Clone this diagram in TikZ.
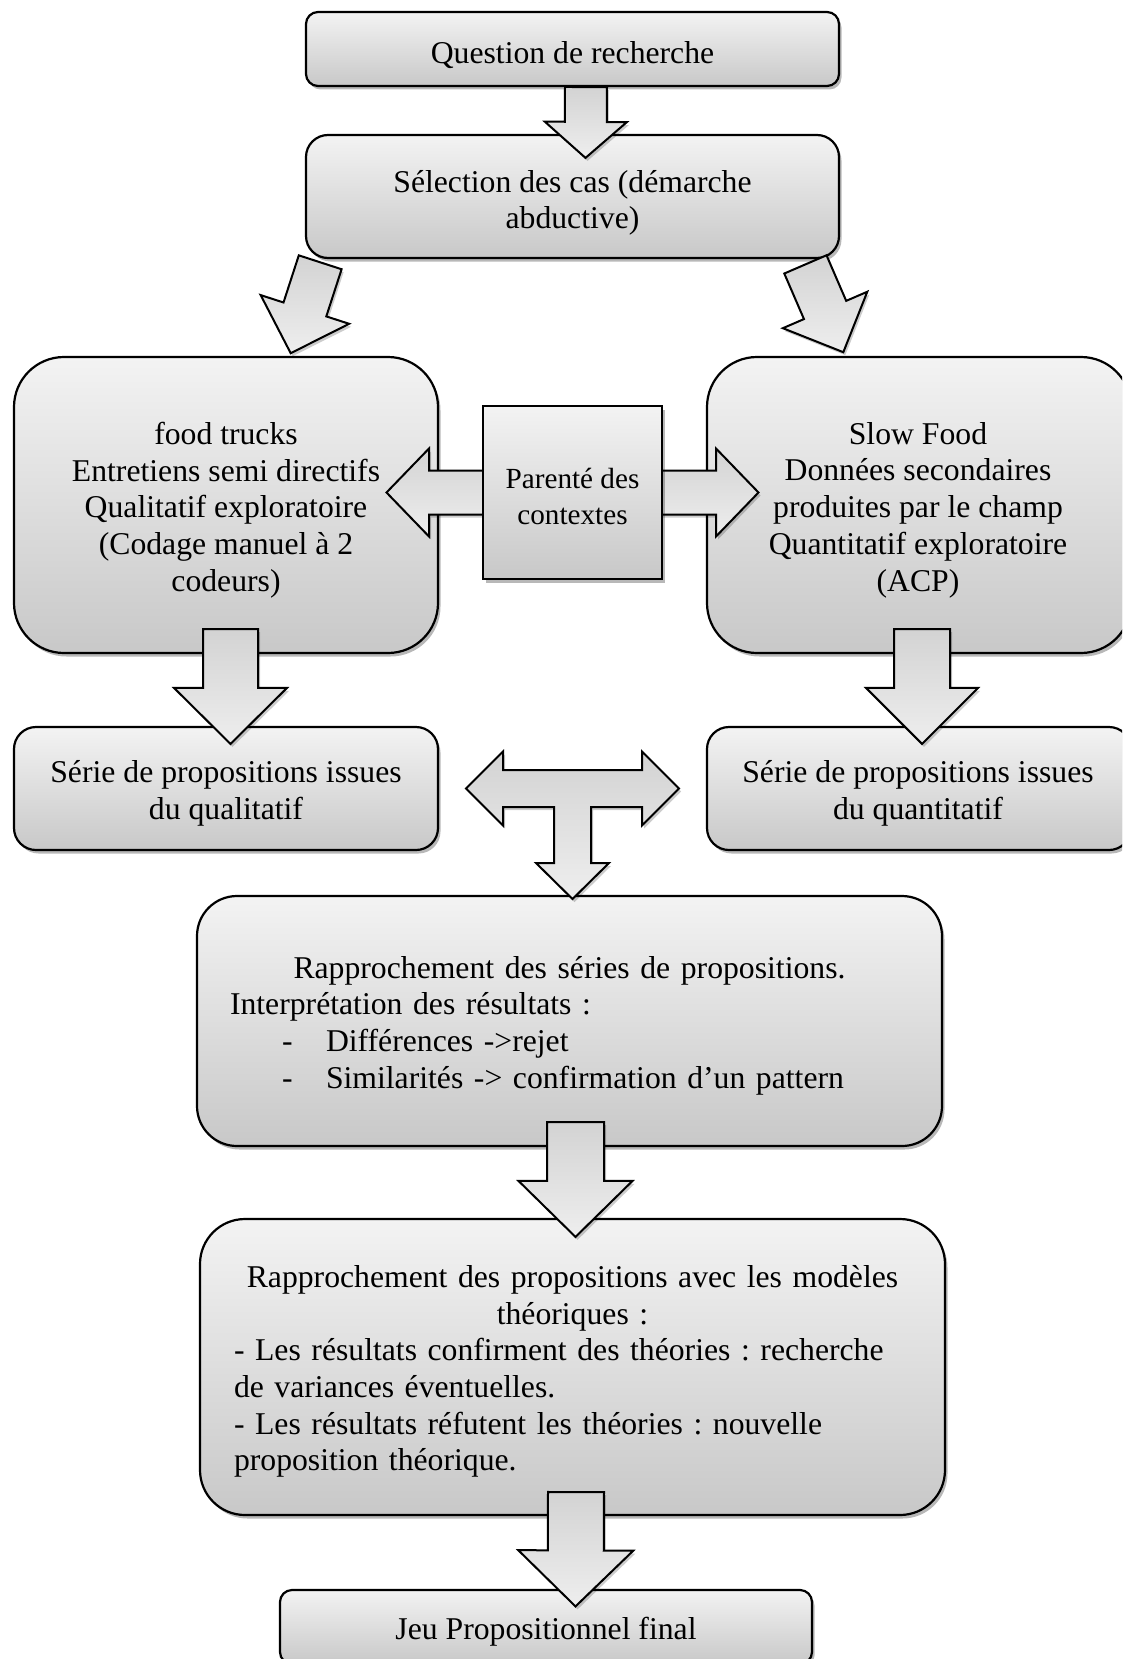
\documentclass[tikz,border=0pt]{standalone}
\usepackage{fontspec}
\setmainfont{Liberation Serif}
\usetikzlibrary{calc,shadows}
\frenchspacing
\definecolor{boxtop}{HTML}{F3F3F3}
\definecolor{boxbot}{HTML}{C8C8C8}
\definecolor{arrtop}{HTML}{D3D3D3}
\definecolor{arrbot}{HTML}{EEEEEE}
\tikzset{
  box/.style={draw=black, line width=2.2pt, top color=boxtop, bottom color=boxbot,
    inner sep=0pt,
    drop shadow={shadow xshift=2.5pt, shadow yshift=-3.5pt, opacity=0.28, fill=black}},
  txt/.style={inner sep=0pt, align=center, font=\fontsize{31.7}{36.7}\selectfont},
  barrow/.style={draw=black, line width=2pt, line join=miter, top color=arrtop, bottom color=arrbot,
    drop shadow={shadow xshift=2pt, shadow yshift=-3pt, opacity=0.2, fill=black}},
}
% name, start, end, shaft half width, head half width, head length
\newcommand\blockarrow[6]{%
  \coordinate (#1-s) at #2;
  \coordinate (#1-e) at #3;
  \coordinate (#1-h) at ($(#1-e)!#6pt!(#1-s)$);
  \draw[barrow] ($(#1-s)!#4pt!90:(#1-e)$) -- ($(#1-h)!#4pt!90:(#1-e)$) -- ($(#1-h)!#5pt!90:(#1-e)$)
    -- (#1-e) -- ($(#1-h)!#5pt!-90:(#1-e)$) -- ($(#1-h)!#4pt!-90:(#1-e)$) -- ($(#1-s)!#4pt!-90:(#1-e)$) -- cycle;
}
\begin{document}
\begin{tikzpicture}[x=1pt,y=-1pt]
\useasboundingbox (0,0) rectangle (1122,1659);
\clip (0,0) rectangle (1122,1659);
\fill[white] (0,0) rectangle (1122,1659);

\node[box, minimum width=533pt, minimum height=74pt, rounded corners=12pt] (q) at (572.5,49) {};
\node[txt] (q-t) at ($(q.center)+(0,6.5)$) {Question de recherche};

\node[box, minimum width=533pt, minimum height=123pt, rounded corners=22pt] (sel) at (572.5,196.5) {};
\node[txt] (sel-t) at ($(sel.center)+(0,6.5)$) {Sélection des cas (démarche\\abductive)};

\node[box, minimum width=424pt, minimum height=296pt, rounded corners=50pt] (ft) at (226,505) {};
\node[txt] (ft-t) at ($(ft.center)+(0,5)$) {food trucks\\Entretiens semi directifs\\Qualitatif exploratoire\\(Codage manuel à 2\\codeurs)};

\node[box, minimum width=424pt, minimum height=296pt, rounded corners=50pt] (sf) at (919,505) {};
\node[txt] (sf-t) at ($(sf.center)+(-1,5)$) {Slow Food\\Données secondaires\\produites par le champ\\Quantitatif exploratoire\\(ACP)};

% double arrow behind the middle box
\coordinate (pc) at ($(ft.east)!0.5!(sf.west)+(0,-12.5)$);
\draw[barrow, shift={(pc)}] (-186,0) -- (-143.5,-44) -- (-143.5,-22) -- (143.5,-22) -- (143.5,-44) -- (186,0)
  -- (143.5,44) -- (143.5,22) -- (-143.5,22) -- (-143.5,44) -- cycle;
\node[box, minimum width=179pt, minimum height=173pt] (par) at (pc) {};
\node[txt, font=\fontsize{29.2}{36}\selectfont] (par-t) at ($(par.center)+(0,4)$) {Parenté des\\contextes};

\node[box, minimum width=424pt, minimum height=123pt, rounded corners=22pt] (sql) at (226,788.5) {};
\node[txt] (sql-t) at ($(sql.center)+(0,5)$) {Série de propositions issues\\du qualitatif};
\node[box, minimum width=424pt, minimum height=123pt, rounded corners=22pt] (squ) at (919,788.5) {};
\node[txt] (squ-t) at ($(squ.center)+(-1,5)$) {Série de propositions issues\\du quantitatif};

\node[box, minimum width=745pt, minimum height=250pt, rounded corners=40pt] (rap) at (569.5,1021) {};
\node[txt, align=left, text width=705pt] (rap-t) at ($(rap.center)+(0,4.5)$) {%
\makebox[705pt][c]{Rapprochement des séries de propositions.}\\
\hspace*{13pt}Interprétation des résultats :\\
\hspace*{65pt}\makebox[44pt][l]{-}Différences ->rejet\\
\hspace*{65pt}\makebox[44pt][l]{-}Similarités -> confirmation d’un pattern};

\node[box, minimum width=745pt, minimum height=296pt, rounded corners=45pt] (mod) at (572.5,1367) {};
\node[txt, align=left, text width=705pt] (mod-t) at ($(mod.center)+(0,4.5)$) {%
\makebox[705pt][c]{Rapprochement des propositions avec les modèles}\\
\makebox[705pt][c]{théoriques :}\\
\hspace*{14pt}- Les résultats confirment des théories : recherche\\
\hspace*{14pt}de variances éventuelles.\\
\hspace*{14pt}- Les résultats réfutent les théories : nouvelle\\
\hspace*{14pt}proposition théorique.};

\node[box, minimum width=532pt, minimum height=74pt, rounded corners=12pt] (fin) at (546,1627) {};
\node[txt] (fin-t) at ($(fin.center)+(0,5)$) {Jeu Propositionnel final};

% block arrows
\blockarrow{a1}{($(q.south)+(13.5,0)$)}{($(sel.north)+(13,24)$)}{21}{41}{36}
\blockarrow{a2}{($(sel.south west)+(15.3,3.2)$)}{($(ft.north)+(64.7,-2.7)$)}{22.5}{46.5}{46}
\blockarrow{a3}{($(sel.south east)+(-34.7,5.3)$)}{($(sf.north)+(-75.7,-3.7)$)}{23}{46}{46}
\blockarrow{a4}{($(ft.south)+(4.5,-25)$)}{($(sql.north)+(4.5,18)$)}{27.5}{56.5}{56}
\blockarrow{a5}{($(sf.south)+(3,-25)$)}{($(squ.north)+(3,18)$)}{28}{56}{56}

% T-shaped arrow
\coordinate (tc) at ($(sql.east)!0.5!(squ.west)$);
\draw[barrow, shift={(tc)}] (-106.5,0) -- (-69.5,-37) -- (-69.5,-18.5) -- (69.5,-18.5) -- (69.5,-37) -- (106.5,0)
  -- (69.5,37) -- (69.5,18.5) -- (18.5,18.5) -- (18.5,74.5) -- (36.5,74.5) -- (0,110.5) -- (-36.5,74.5)
  -- (-18.5,74.5) -- (-18.5,18.5) -- (-69.5,18.5) -- (-69.5,37) -- cycle;

\blockarrow{a8}{($(rap.south)+(6,-25)$)}{($(mod.north)+(3,19)$)}{28.5}{57}{56}
\blockarrow{a9}{($(mod.south)+(3.5,-24)$)}{($(fin.north)+(29.5,17.5)$)}{28}{57.5}{56}
\end{tikzpicture}
\end{document}
